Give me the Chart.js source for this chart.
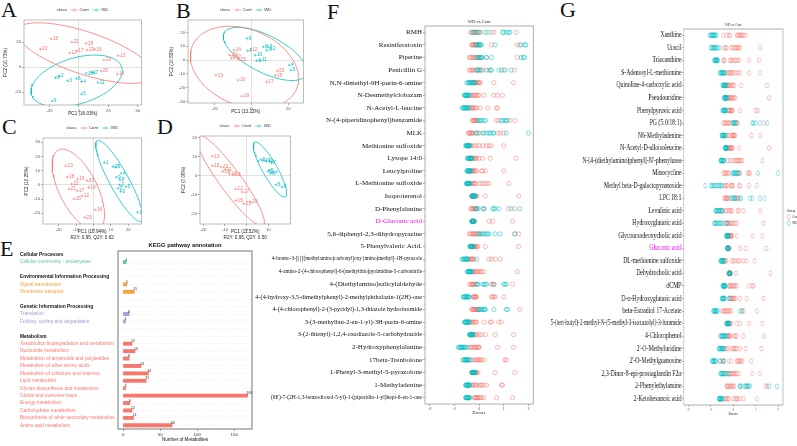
<!DOCTYPE html>
<html>
<head>
<meta charset="utf-8">
<title>Metabolomics figure</title>
<script src="https://cdn.jsdelivr.net/npm/chart.js@4.4.1/dist/chart.umd.min.js"></script>
<style>
  html, body { margin: 0; padding: 0; background: #fff; }
  #page { position: relative; width: 797px; height: 446px; overflow: hidden; background: #fff; }
  #page canvas { position: absolute; }
  .letter { position: absolute; font: 22px/1 "Liberation Serif", "Times New Roman", serif; color: #111; }
  #gWrap { position: absolute; left: 536px; top: 20px; width: 363px; height: 397px; transform: scaleX(0.72); transform-origin: 0 0; }
</style>
</head>
<body>
<div id="page">
  <div class="letter" style="left:1px;top:-1px">A</div>
  <div class="letter" style="left:176px;top:0px">B</div>
  <div class="letter" style="left:2px;top:116px">C</div>
  <div class="letter" style="left:157px;top:116px">D</div>
  <div class="letter" style="left:0px;top:238px">E</div>
  <div class="letter" style="left:327px;top:1px">F</div>
  <div class="letter" style="left:560px;top:-1px">G</div>
  <div id="gWrap"></div>
</div>
<script>
// ---- sample ids (labels next to the points) ----
const contIds = [12, 13, 14, 15, 16, 17, 18, 19, 20, 21, 22, 23];
const wdIds = [1, 2, 3, 4, 5, 6, 7, 8, 9, 10, 11];

// ---- A: PCA ----
const aContX = [-7.8, 33.3, 32.5, -23.6, 13.3, -2, 6.1, 21.1, 18.9, -6, 7, -32.8];
const aContY = [11.2, 9, -5.6, 22.4, 14.2, 13, 19, 5.6, -3, 20, 13.6, 14.4];
const aWdX = [10.6, -16.7, -9.7, 2.2, 2.2, -2.2, 12.5, -20, -22.8, 6.1, 16.1];
const aWdY = [-4.2, -7.2, -11, -11.7, -21.6, -9.4, -4.5, -8.6, -27.2, -5, -12.5];
const aXTicks = [-25, 0, 25, 50];
const aYTicks = [-20, 0, 20];

// ---- B: PCA ----
const bContX = [-0.7, -19.4, -9.6, -6.9, -7.3, 8.2, -5.2, 13, -12, -11, -9.6, 14];
const bContY = [7.2, -10.9, 7.2, 0.5, -14.5, -15.7, -26, -10.9, 3.6, 1.5, 2.5, -7.7];
const bWdX = [2.8, 10.8, 8.2, 20.6, 21.5, 9, -2.1, 6.4, -2.5, 2, 4.6];
const bWdY = [-0.5, 8, 7.2, -3.6, -7.2, 9.6, 6.7, 9.6, 15.7, 3.6, 0];
const bXTicks = [-20, 0, 20];
const bYTicks = [-30, -20, -10, 0, 10, 20];

// ---- C: PLS-DA ----
const cContX = [-6.6, -15.9, -2.8, -11.2, 1, -9.4, -15, -9.2, -3.8, -14, -12.5, -5];
const cContY = [-7.7, 13.4, -1.9, -10, -17.6, -4, 5.5, 4.2, 3, -2.8, 0.7, -22.8];
const cWdX = [6.2, 15, 14, 15.9, 18.7, 15.6, 12.5, 15.2, 13.1, 11.2, 25.3];
const cWdY = [15.7, 0, -2.4, 8.2, -1.2, -4.7, 12.5, 3.5, 5.4, 12.9, -19.2];
const cXTicks = [-20, -10, 0, 10, 20];
const cYTicks = [-20, -10, 0, 10, 20, 30];

// ---- D: PLS-DA ----
const dContX = [-5, -15.8, -8, -5, -6, -2.1, -15.8, -11, 1.7, -10, -11.8, -1.3];
const dContY = [-7, 10.2, 1, -13, 0.5, -8.6, 5.3, 2.3, -13.8, 3.2, 4.6, -14.7];
const dWdX = [10.6, 9.9, 11, 12.1, 13.6, 6.6, 11.5, 16.3, 10.5, 7.6, 9];
const dWdY = [7.5, 2.3, 1.2, 1.7, -4.7, 8.4, 6.8, -5.9, 2.8, 8, 7.8];
const dXTicks = [-20, -10, 0, 10];
const dYTicks = [-20, -10, 0, 10, 20];

// ---- E: KEGG ----
const keggGroups = ['Cellular Processes', 'Environmental Information Processing',
  'Genetic Information Processing', 'Metabolism'];
const keggPathways = ['Cellular community - prokaryotes', 'Signal transduction', 'Membrane transport',
  'Translation', 'Folding, sorting and degradation',
  'Xenobiotics biodegradation and metabolism', 'Nucleotide metabolism',
  'Metabolism of terpenoids and polyketides', 'Metabolism of other amino acids',
  'Metabolism of cofactors and vitamins', 'Lipid metabolism', 'Glycan biosynthesis and metabolism',
  'Global and overview maps', 'Energy metabolism', 'Carbohydrate metabolism',
  'Biosynthesis of other secondary metabolites', 'Amino acid metabolism'];
const keggGroupOf = [0, 1, 1, 2, 2, 3, 3, 3, 3, 3, 3, 3, 3, 3, 3, 3, 3];
const keggCounts = [4, 5, 15, 8, 3, 12, 16, 8, 24, 34, 31, 3, 168, 9, 12, 14, 66];
const eXTicks = [0, 50, 100, 150];

// ---- F: WD vs Cont z-scores ----
const fRows = ['RMH', 'Resiniferatoxin', 'Piperine', 'Penicillin G', 'N,N-dimethyl-9H-purin-6-amine',
  'N-Desmethylclobazam', 'N-Acetyl-L-leucine', 'N-(4-piperidinophenyl)benzamide', 'MLK',
  'Methionine sulfoxide', 'Lysope 14:0', 'Leucylproline', 'L-Methionine sulfoxide', 'Isoproterenol',
  'D-Phenylalanine', 'D-Gluconic acid', '5,6-diphenyl-2,3-dihydropyrazine', '5-Phenylvaleric Acid.',
  '4-bromo-3-[({[(methylamino)carbonyl]oxy}imino)methyl]-1H-pyrazole',
  '4-amino-2-(4-chlorophenyl)-6-(methylthio)pyrimidine-5-carbonitrile',
  '4-(Diethylamino)salicylaldehyde', '4-(4-hydroxy-3,5-dimethylphenyl)-2-methylphthalazin-1(2H)-one',
  '4-(4-chlorophenyl)-2-(3-pyridyl)-1,3-thiazole hydrobromide', '3-(3-methylbut-2-en-1-yl)-3H-purin-6-amine',
  '3-(2-thienyl)-1,2,4-oxadiazole-5-carbohydrazide', '2-Hydroxyphenylalanine', '17beta-Trenbolone',
  '1-Phenyl-3-methyl-5-pyrazolone', '1-Methyladenine',
  '(6E)-7-(2H-1,3-benzodioxol-5-yl)-1-(piperidin-1-yl)hept-6-en-1-one'];
const fCont = [
  [-0.35,-0.3,-0.25,-0.2,-0.15,-0.1,-0.05,0,0.05,0.5,0.6,1.5],
  [-0.3,-0.28,-0.25,-0.22,-0.2,-0.15,-0.1,-0.05,0,0.5,1.55,1.65],
  [-0.4,-0.35,-0.3,-0.25,-0.2,-0.15,-0.1,-0.05,0,0.05,0.3,1.55],
  [-0.4,-0.35,-0.3,-0.25,-0.2,-0.1,-0.05,0.1,0.15,0.4,1,1.45],
  [-0.3,-0.25,-0.2,-0.15,-0.12,-0.1,-0.05,-0.02,0,0.05,0.6,1.4],
  [-0.35,-0.3,-0.25,-0.2,-0.15,-0.1,-0.05,0,0.2,0.6,0.75,0.95],
  [-0.4,-0.35,-0.3,-0.28,-0.25,-0.2,-0.15,-0.1,0.05,0.35,0.7,0.75],
  [-0.28,-0.25,-0.22,-0.2,-0.18,-0.15,-0.12,-0.1,0.7,0.8,1.25,1.45],
  [-0.45,-0.4,-0.38,-0.35,-0.3,-0.28,-0.25,-0.05,0,0.75,0.85,1],
  [-0.45,-0.4,-0.35,-0.3,-0.2,-0.1,0,0.15,0.3,0.4,0.5,1],
  [-0.35,-0.3,-0.28,-0.25,-0.2,-0.18,-0.15,-0.1,0,0.15,0.45,1.5],
  [-0.35,-0.3,-0.28,-0.25,-0.22,-0.2,-0.15,-0.1,0.1,0.15,0.25,1],
  [-0.35,-0.3,-0.25,-0.22,-0.18,-0.15,0,0.1,0.2,0.3,0.4,1.2],
  [-0.32,-0.28,-0.26,-0.25,-0.22,-0.2,-0.18,-0.15,-0.12,-0.1,0.25,1.6],
  [-0.35,-0.3,-0.28,-0.25,-0.22,-0.2,-0.15,-0.12,-0.1,0.2,1.2,1.45],
  [-0.3,-0.28,-0.27,-0.26,-0.24,-0.23,-0.22,-0.2,-0.18,0.4,0.55,1.35],
  [-0.4,-0.35,-0.3,-0.25,-0.22,-0.2,-0.15,-0.1,0,0.05,1.45,1.6],
  [-0.3,-0.28,-0.25,-0.22,-0.2,-0.18,-0.15,-0.12,-0.1,-0.05,0.25,1.6],
  [-0.45,-0.4,-0.35,-0.32,-0.3,-0.28,-0.25,-0.2,0.4,0.5,0.65,0.85],
  [-0.3,-0.25,-0.22,-0.2,-0.15,-0.1,-0.05,0,0.05,0.1,0.2,1.55],
  [-0.38,-0.35,-0.3,-0.27,-0.25,-0.22,-0.2,-0.15,0.5,0.55,0.6,1.35],
  [-0.25,-0.22,-0.2,-0.18,-0.15,-0.12,-0.1,0.5,0.55,0.6,0.65,1],
  [-0.3,-0.28,-0.25,-0.22,-0.2,-0.18,-0.15,-0.12,-0.1,-0.05,0,1.65],
  [-0.4,-0.35,-0.3,-0.25,-0.2,-0.15,-0.1,0.2,0.45,0.5,0.8,0.9],
  [-0.3,-0.28,-0.25,-0.22,-0.2,-0.15,-0.1,0,0.1,0.25,0.65,1.4],
  [-0.4,-0.35,-0.3,-0.25,-0.2,-0.15,-0.1,-0.05,-0.02,0,0.75,1.4],
  [-0.35,-0.3,-0.2,-0.15,-0.1,-0.05,0,0.05,0.1,0.2,1.05,1.1],
  [-0.3,-0.28,-0.25,-0.22,-0.2,-0.18,-0.15,-0.12,-0.1,-0.05,0.65,1.45],
  [-0.3,-0.25,-0.2,-0.15,-0.1,0,0.05,0.1,0.2,0.3,0.9,0.95],
  [-0.2,-0.18,-0.15,-0.1,-0.08,-0.05,0,0.05,0.1,0.2,0.7,1.35]
];
const fWd = [
  [-0.25,-0.2,-0.1,0,0.25,0.35,0.95,1,1.1,1.2,1.25],
  [-0.15,-0.1,-0.05,0,0.02,0.05,0.1,0.65,1.7,1.85,1.9],
  [-0.1,-0.05,0,0.05,0.1,0.12,0.3,0.5,1.7,1.8,1.85],
  [-0.1,-0.05,0,0.05,0.3,0.45,0.5,0.8,0.9,1.05,1.3],
  [-0.5,-0.45,-0.42,-0.4,-0.35,-0.32,-0.3,-0.25,-0.22,-0.2,-0.15],
  [-0.6,-0.58,-0.55,-0.55,-0.52,-0.5,-0.5,-0.48,-0.45,-0.42,-0.4],
  [-0.7,-0.65,-0.62,-0.6,-0.58,-0.55,-0.52,-0.5,-0.48,-0.45,-0.42],
  [-0.05,0,0.05,0.1,0.2,0.25,0.9,0.95,1.05,1.1,1.15],
  [-0.15,-0.1,0.15,0.2,0.3,0.4,0.45,0.55,0.6,1.1,2],
  [-0.55,-0.52,-0.5,-0.5,-0.48,-0.46,-0.45,-0.44,-0.42,-0.4,-0.38],
  [-0.48,-0.45,-0.44,-0.42,-0.4,-0.38,-0.36,-0.35,-0.33,-0.32,-0.3],
  [-0.5,-0.48,-0.46,-0.45,-0.43,-0.42,-0.4,-0.39,-0.38,-0.36,-0.34],
  [-0.52,-0.5,-0.49,-0.48,-0.45,-0.44,-0.43,-0.42,-0.41,-0.4,-0.38],
  [-0.3,-0.28,-0.27,-0.26,-0.24,-0.23,-0.22,-0.2,-0.19,-0.18,-0.16],
  [-0.15,-0.1,-0.05,0.15,0.2,0.55,0.6,0.65,0.8,1.3,1.65],
  [-0.3,-0.29,-0.28,-0.27,-0.26,-0.25,-0.25,-0.24,-0.23,-0.22,-0.21],
  [-0.05,0,0.1,0.15,0.2,0.3,0.35,0.4,0.65,0.85,1.45],
  [-0.38,-0.36,-0.35,-0.34,-0.33,-0.32,-0.3,-0.3,-0.28,-0.27,-0.26],
  [-0.7,-0.65,-0.62,-0.6,-0.58,-0.55,-0.52,-0.5,-0.48,-0.45,-0.1],
  [-0.48,-0.46,-0.45,-0.42,-0.4,-0.4,-0.38,-0.36,-0.35,-0.33,-0.3],
  [-0.1,-0.08,-0.05,0.15,0.2,0.25,0.3,0.6,1,1.05,1.1],
  [-0.65,-0.62,-0.6,-0.58,-0.55,-0.52,-0.5,-0.48,-0.45,-0.42,-0.4],
  [-0.05,0,0.05,0.1,0.15,0.2,0.22,0.25,0.6,1.1,1.15],
  [-0.6,-0.58,-0.56,-0.55,-0.52,-0.5,-0.48,-0.45,-0.44,-0.42,-0.4],
  [-0.4,-0.38,-0.36,-0.35,-0.34,-0.33,-0.32,-0.3,-0.29,-0.28,-0.26],
  [-0.85,-0.8,-0.78,-0.75,-0.72,-0.7,-0.65,-0.62,-0.6,-0.55,-0.5],
  [-0.65,-0.62,-0.6,-0.58,-0.55,-0.52,-0.5,-0.48,-0.45,-0.42,-0.4],
  [-0.3,-0.28,-0.27,-0.26,-0.24,-0.23,-0.22,-0.2,-0.19,-0.18,-0.16],
  [-0.55,-0.53,-0.52,-0.5,-0.48,-0.47,-0.45,-0.43,-0.42,-0.4,-0.38],
  [-0.55,-0.53,-0.52,-0.5,-0.48,-0.47,-0.45,-0.43,-0.42,-0.4,-0.38]
];

// ---- G: WD vs Cont z-scores ----
const gRows = ['Xanthine', 'Uracil', 'Triacanthine', 'S-Adenosyl-L-methionine', 'Quinoline-4-carboxylic acid',
  'Pseudouridine', 'Phenylpyruvic acid', 'PG (5:0/18:1)', 'N6-Methyladenine', 'N-Acetyl-D-alloisoleucine',
  "N-[4-(diethylamino)phenyl]-N'-phenylurea", 'Minocycline', 'Methyl beta-D-galactopyranoside', 'LPC 18:1',
  'Levulinic acid', 'Hydroxyglutaric acid', 'Glycoursodeoxycholic acid', 'Gluconic acid',
  'DL-methionine sulfoxide', 'Dehydrocholic acid', 'dCMP', 'D-\u03b1-Hydroxyglutaric acid',
  'beta-Estradiol 17-Acetate', '5-(tert-butyl)-2-methyl-N-(5-methyl-3-isoxazolyl)-3-furamide',
  '4-Chlorophenol', "2'-O-Methyluridine", "2'-O-Methylguanosine", '2,3-Dinor-8-epi-prostaglandin F2\u03b1',
  '2-Phenylethylamine', '2-Ketohexanoic acid'];
const gCont = [
  [-0.45,-0.3,-0.2,-0.15,0.15,0.2,0.25,0.3,0.35,0.4,0.45,0.55],
  [-0.4,-0.35,-0.3,-0.1,-0.05,0.05,0.1,0.15,0.2,0.25,0.3,1.2],
  [-0.45,-0.42,-0.4,-0.15,-0.1,-0.05,0.05,0.1,0.2,0.25,0.7,1.15],
  [-0.3,-0.25,-0.2,-0.15,-0.1,-0.05,0,0.1,0.2,0.3,0.7,1.2],
  [-0.3,-0.28,-0.25,-0.22,-0.2,-0.15,-0.1,-0.05,0,0.05,0.35,1.5],
  [-0.25,-0.22,-0.2,-0.18,-0.15,-0.12,-0.08,-0.05,0,0.05,0.1,1.6],
  [-0.25,-0.22,-0.2,-0.15,-0.12,-0.1,-0.08,-0.05,-0.02,0.3,1,1.1],
  [-0.45,-0.4,-0.35,-0.3,-0.25,-0.2,-0.15,0,0.1,0.15,0.2,1.35],
  [-0.3,-0.25,-0.2,-0.1,-0.05,-0.02,0,0.02,0.05,0.08,0.8,1.2],
  [-0.25,-0.22,-0.2,-0.18,-0.15,-0.12,-0.1,-0.08,-0.05,-0.02,0.25,1.6],
  [-0.25,-0.15,-0.05,0.05,0.1,0.15,0.2,0.25,0.3,0.35,0.4,1.3],
  [-0.45,-0.4,-0.35,-0.3,-0.25,-0.2,0.2,0.25,0.3,0.65,0.7,0.75],
  [-0.4,-0.35,-0.3,-0.25,-0.1,-0.08,-0.05,0,0.25,0.3,0.7,1.05],
  [-0.4,-0.38,-0.35,-0.3,-0.28,-0.25,-0.2,0.05,0.1,0.15,0.2,0.22],
  [-0.5,-0.45,-0.35,-0.3,-0.2,-0.15,-0.1,-0.05,0.2,0.25,0.45,1.2],
  [-0.4,-0.35,-0.28,-0.25,-0.2,-0.15,-0.1,-0.05,0,0.1,0.15,1.35],
  [-0.2,-0.2,-0.18,-0.15,-0.12,-0.1,-0.1,-0.08,-0.05,0.15,0.85,1.3],
  [-0.28,-0.27,-0.25,-0.23,-0.22,-0.2,-0.2,-0.18,-0.16,0.3,0.55,1.48],
  [-0.4,-0.38,-0.35,-0.3,-0.05,0,0.1,0.2,0.3,0.45,0.6,0.95],
  [-0.22,-0.22,-0.2,-0.2,-0.18,-0.16,-0.15,-0.14,-0.12,-0.1,0.12,1.66],
  [-0.2,-0.18,-0.15,-0.1,-0.05,0,0.05,0.1,0.15,0.7,0.85,0.9],
  [-0.2,-0.15,-0.1,-0.08,-0.05,0,0.02,0.05,0.1,0.3,0.6,1.35],
  [-0.5,-0.45,-0.4,-0.35,-0.3,-0.25,-0.2,-0.15,-0.1,0.4,0.45,1.05],
  [-0.3,-0.25,-0.22,-0.2,-0.18,-0.15,-0.12,-0.1,0.15,0.3,0.7,1.3],
  [-0.28,-0.25,-0.22,-0.2,-0.18,-0.15,-0.1,0.05,0.1,0.15,0.45,1.38],
  [-0.4,-0.35,-0.28,-0.2,-0.05,0,0.05,0.1,0.15,0.3,0.55,1.25],
  [-0.58,-0.5,-0.45,-0.2,-0.1,0.15,0.2,0.25,0.3,0.35,0.4,0.8],
  [-0.3,-0.25,-0.15,-0.1,-0.05,0,0.05,0.1,0.15,0.25,0.85,1.2],
  [-0.3,-0.28,-0.25,-0.2,-0.15,-0.1,-0.05,0,0.05,0.6,1.45,1.5],
  [-0.4,-0.35,-0.3,-0.25,-0.2,0,0.1,0.15,0.2,0.3,0.45,1.05]
];
const gWd = [
  [-1.05,-1.02,-1,-0.95,-0.92,-0.9,-0.88,-0.85,-0.82,-0.78,-0.75],
  [-1,-0.98,-0.95,-0.9,-0.88,-0.85,-0.8,-0.78,-0.75,-0.7,-0.6],
  [-0.85,-0.83,-0.82,-0.8,-0.79,-0.78,-0.75,-0.73,-0.72,-0.7,-0.68],
  [-0.6,-0.58,-0.55,-0.52,-0.5,-0.48,-0.45,-0.44,-0.42,-0.4,-0.38],
  [-0.48,-0.46,-0.45,-0.43,-0.41,-0.4,-0.38,-0.37,-0.36,-0.34,-0.32],
  [-0.42,-0.41,-0.4,-0.38,-0.37,-0.36,-0.34,-0.33,-0.32,-0.3,-0.28],
  [-0.48,-0.46,-0.45,-0.42,-0.41,-0.4,-0.38,-0.37,-0.36,-0.34,-0.32],
  [-0.05,0,0.02,0.05,0.1,0.15,0.85,0.9,1,1.2,1.5],
  [-0.52,-0.5,-0.5,-0.48,-0.45,-0.44,-0.42,-0.4,-0.4,-0.38,-0.36],
  [-0.38,-0.37,-0.36,-0.35,-0.34,-0.33,-0.32,-0.31,-0.3,-0.29,-0.28],
  [-0.58,-0.56,-0.55,-0.52,-0.5,-0.48,-0.46,-0.45,-0.44,-0.42,-0.4],
  [-0.05,0,0.02,0.05,0.1,0.12,0.15,0.2,0.28,1.1,2],
  [-1.25,-1,-0.95,-0.9,-0.85,-0.8,-0.72,-0.65,-0.6,-0.55,-0.5],
  [-0.1,-0.05,0,0.05,0.1,0.3,0.35,0.75,0.85,1.2,1.4],
  [-0.8,-0.78,-0.75,-0.72,-0.7,-0.65,-0.62,-0.6,-0.55,-0.52,-0.5],
  [-0.85,-0.82,-0.8,-0.75,-0.7,-0.65,-0.6,-0.55,-0.5,-0.3,-0.28],
  [-0.33,-0.31,-0.3,-0.28,-0.27,-0.26,-0.25,-0.24,-0.24,-0.23,-0.22],
  [-0.28,-0.27,-0.27,-0.26,-0.25,-0.25,-0.24,-0.23,-0.23,-0.22,-0.21],
  [-0.58,-0.56,-0.55,-0.52,-0.5,-0.5,-0.48,-0.46,-0.45,-0.44,-0.42],
  [-0.2,-0.19,-0.19,-0.18,-0.17,-0.17,-0.16,-0.15,-0.15,-0.14,-0.13],
  [-0.48,-0.46,-0.45,-0.43,-0.42,-0.41,-0.4,-0.38,-0.37,-0.36,-0.35],
  [-0.52,-0.5,-0.48,-0.46,-0.45,-0.43,-0.42,-0.4,-0.38,-0.2,-0.15],
  [-0.9,-0.88,-0.85,-0.82,-0.8,-0.78,-0.75,-0.72,-0.7,0.3,0.38],
  [-0.32,-0.3,-0.29,-0.28,-0.26,-0.25,-0.24,-0.22,-0.21,-0.2,-0.18],
  [-0.58,-0.55,-0.52,-0.5,-0.48,-0.45,-0.42,-0.4,-0.38,-0.35,-0.3],
  [-0.65,-0.62,-0.6,-0.58,-0.55,-0.52,-0.5,-0.48,-0.46,-0.45,-0.42],
  [-0.95,-0.92,-0.9,-0.88,-0.85,-0.82,-0.8,-0.78,-0.6,-0.45,-0.4],
  [-0.58,-0.55,-0.52,-0.5,-0.48,-0.45,-0.42,-0.38,-0.35,-0.22,-0.2],
  [0.3,0.3,0.35,0.5,0.55,0.6,0.65,0.7,0.75,1.6,1.95],
  [-0.65,-0.63,-0.62,-0.6,-0.58,-0.57,-0.55,-0.53,-0.52,-0.5,-0.48]
];
const zTicks = [-2, -1, 0, 1, 2];

// ---------------------------------------------------------------
const SANS = '"Liberation Sans", Arial, Helvetica, sans-serif';
const SERIF = '"Liberation Serif", "Times New Roman", Times, serif';
const RED = '#F8766D', TEAL = '#00BFC4';
const RED_A = 'rgba(248,118,109,0.72)', TEAL_A = 'rgba(0,191,196,0.72)';

Chart.defaults.animation = false;
Chart.defaults.responsive = false;
Chart.defaults.font.family = SANS;
Chart.defaults.plugins.legend.display = false;
Chart.defaults.plugins.tooltip.enabled = false;

const page = document.getElementById('page');

function addCanvas(parent, x, y, w, h) {
  const c = document.createElement('canvas');
  c.width = w; c.height = h;
  c.style.left = x + 'px'; c.style.top = y + 'px';
  c.style.width = w + 'px'; c.style.height = h + 'px';
  parent.appendChild(c);
  return c;
}

// 95% data ellipse like stat_ellipse (radius from the F distribution)
const F95 = { 10: 4.103, 11: 3.982 };
function ellipse(xs, ys) {
  const n = xs.length;
  const mx = xs.reduce((a, b) => a + b, 0) / n;
  const my = ys.reduce((a, b) => a + b, 0) / n;
  let sxx = 0, syy = 0, sxy = 0;
  for (let i = 0; i < n; i++) {
    const dx = xs[i] - mx, dy = ys[i] - my;
    sxx += dx * dx; syy += dy * dy; sxy += dx * dy;
  }
  sxx /= n - 1; syy /= n - 1; sxy /= n - 1;
  const r11 = Math.sqrt(sxx), r12 = sxy / r11, r22 = Math.sqrt(syy - r12 * r12);
  const rad = Math.sqrt(2 * F95[n - 1]);
  const out = [];
  for (let k = 0; k <= 90; k++) {
    const t = 2 * Math.PI * k / 90, u = Math.cos(t), v = Math.sin(t);
    out.push({ x: mx + rad * u * r11, y: my + rad * (u * r12 + v * r22) });
  }
  return out;
}

// plugins
const frame = {
  id: 'frame',
  afterDraw(chart, args, o) {
    const a = chart.chartArea, ctx = chart.ctx;
    ctx.save();
    ctx.strokeStyle = o.color || '#8c8c8c';
    ctx.lineWidth = o.width || 0.7;
    ctx.strokeRect(a.left, a.top, a.right - a.left, a.bottom - a.top);
    ctx.restore();
  }
};

const pointTags = {
  id: 'pointTags',
  afterDatasetsDraw(chart) {
    const ctx = chart.ctx, a = chart.chartArea;
    ctx.save();
    ctx.beginPath(); ctx.rect(a.left, a.top, a.right - a.left, a.bottom - a.top); ctx.clip();
    ctx.font = '4.8px ' + SANS;
    ctx.textBaseline = 'middle';
    chart.data.datasets.forEach((ds, i) => {
      if (!ds.tags) return;
      ctx.fillStyle = ds.borderColor;
      chart.getDatasetMeta(i).data.forEach((pt, j) => ctx.fillText(String(ds.tags[j]), pt.x + 1.7, pt.y));
    });
    ctx.restore();
  }
};

const pcaLegend = {
  id: 'pcaLegend',
  afterDraw(chart) {
    const ctx = chart.ctx, a = chart.chartArea;
    const y = a.top - 10;
    const parts = [['class', null], ['Cont', RED], ['WD', TEAL]];
    ctx.save();
    ctx.font = '4.4px ' + SANS;
    ctx.textBaseline = 'middle';
    const key = 7, gap = 4;
    let total = -gap;
    parts.forEach(([t, k]) => { total += (k ? key + 1.5 : 0) + ctx.measureText(t).width + gap; });
    let x = (a.left + a.right) / 2 - total / 2;
    parts.forEach(([t, k]) => {
      if (k) {
        ctx.strokeStyle = k; ctx.lineWidth = 0.6;
        ctx.beginPath();
        ctx.moveTo(x, y); ctx.lineTo(x + key, y);
        ctx.moveTo(x + key / 2, y - 1.5); ctx.lineTo(x + key / 2, y + 1.5);
        ctx.stroke();
        x += key + 1.5;
      }
      ctx.fillStyle = '#333';
      ctx.fillText(t, x, y);
      x += ctx.measureText(t).width + gap;
    });
    ctx.restore();
  }
};

const heading = {
  id: 'heading',
  afterDraw(chart, args, o) {
    if (!o.text) return;
    const ctx = chart.ctx, a = chart.chartArea;
    ctx.save();
    ctx.font = o.css;
    ctx.fillStyle = o.color || '#222';
    ctx.textAlign = 'center';
    ctx.fillText(o.text, (a.left + a.right) / 2, a.top - o.gap);
    ctx.restore();
  }
};

const barValues = {
  id: 'barValues',
  afterDatasetsDraw(chart) {
    const ctx = chart.ctx, vals = chart.data.datasets[0].data;
    ctx.save();
    ctx.font = '3.6px ' + SANS;
    ctx.fillStyle = '#333';
    ctx.textBaseline = 'bottom';
    chart.getDatasetMeta(0).data.forEach((bar, i) => {
      if (vals[i] == null) return;
      ctx.fillText(String(vals[i]), bar.x - 1, bar.y - 0.6);
    });
    ctx.restore();
  }
};

const groupLegend = {
  id: 'groupLegend',
  afterDraw(chart) {
    const ctx = chart.ctx, x = chart.chartArea.right + 5, y = 191;
    ctx.save();
    ctx.font = '4.4px ' + SANS;
    ctx.textBaseline = 'middle';
    ctx.fillStyle = '#333';
    ctx.fillText('Group', x, y);
    [['Cont', RED_A], ['WD', TEAL_A]].forEach(([t, c], i) => {
      const yy = y + 6 + i * 6;
      ctx.strokeStyle = c; ctx.lineWidth = 0.7;
      ctx.beginPath(); ctx.arc(x + 3, yy, 2.2, 0, Math.PI * 2); ctx.stroke();
      ctx.fillStyle = '#333';
      ctx.fillText(t, x + 8, yy);
    });
    ctx.restore();
  }
};

// ---------------- A-D ----------------
function pcaAxis(range, ticks, title, vertical, size) {
  return {
    type: 'linear', min: range[0], max: range[1],
    afterBuildTicks: s => { s.ticks = ticks.map(v => ({ value: v })); },
    afterFit: s => {
      if (vertical) s.width = size; else s.height = size;
      s.paddingLeft = s.paddingRight = s.paddingTop = s.paddingBottom = 0;
    },
    grid: {
      color: ctx => (ctx.tick && ctx.tick.value === 0 ? '#d4d4d4' : 'rgba(0,0,0,0)'),
      lineWidth: 0.7, tickLength: 2, tickColor: '#555', tickWidth: 0.5
    },
    border: { display: false },
    ticks: { font: { size: 4.2 }, color: '#555', padding: 1, maxRotation: 0, autoSkip: false },
    title: { display: true, text: title, font: { size: 4.6 }, color: '#222', padding: { top: 1, bottom: 0 } }
  };
}

function pcaPanel(p) {
  const padT = 15, padR = 2, padL = 1;
  const w = padL + p.yw + (p.box[2] - p.box[0]) + padR;
  const h = padT + (p.box[3] - p.box[1]) + p.xh;
  const c = addCanvas(page, p.box[0] - p.yw - padL, p.box[1] - padT, w, h);
  const pts = (xs, ys) => xs.map((x, i) => ({ x, y: ys[i] }));
  new Chart(c, {
    type: 'scatter',
    data: {
      datasets: [
        { data: pts(p.contX, p.contY), tags: contIds, pointStyle: 'cross', pointRadius: 1.4,
          borderColor: RED, borderWidth: 0.6 },
        { data: pts(p.wdX, p.wdY), tags: wdIds, pointStyle: 'cross', pointRadius: 1.4,
          borderColor: TEAL, borderWidth: 0.6 },
        { data: ellipse(p.contX, p.contY), showLine: true, pointRadius: 0, borderColor: RED, borderWidth: 0.8 },
        { data: ellipse(p.wdX, p.wdY), showLine: true, pointRadius: 0, borderColor: TEAL, borderWidth: 0.8 }
      ]
    },
    options: {
      layout: { padding: { top: padT, right: padR, left: padL, bottom: 0 } },
      scales: {
        x: pcaAxis(p.xRange, p.xTicks, p.xTitle, false, p.xh),
        y: pcaAxis(p.yRange, p.yTicks, p.yTitle, true, p.yw)
      },
      plugins: { frame: { color: '#a0a0a0', width: 0.7 } }
    },
    plugins: [frame, pointTags, pcaLegend]
  });
}

pcaPanel({ box: [24, 20, 144, 105], yw: 22, xh: 11, contX: aContX, contY: aContY, wdX: aWdX, wdY: aWdY,
  xRange: [-46.7, 53], yRange: [-30.4, 37.6], xTicks: aXTicks, yTicks: aYTicks,
  xTitle: 'PC1 (16.03%)', yTitle: 'PC2 (10.73%)' });
pcaPanel({ box: [188, 20, 306, 103], yw: 20, xh: 11, contX: bContX, contY: bContY, wdX: bWdX, wdY: bWdY,
  xRange: [-34.7, 28.3], yRange: [-31, 29], xTicks: bXTicks, yTicks: bYTicks,
  xTitle: 'PC1 (13.22%)', yTitle: 'PC2 (10.82%)' });
pcaPanel({ box: [43, 138, 144, 224], yw: 20, xh: 16, contX: cContX, contY: cContY, wdX: cWdX, wdY: cWdY,
  xRange: [-29, 27.5], yRange: [-27.5, 33], xTicks: cXTicks, yTicks: cYTicks,
  xTitle: ['PC1 (10.94%)', 'R2Y: 0.95, Q2Y: 0.62'], yTitle: 'PC2 (10.25%)' });
pcaPanel({ box: [200, 136, 293, 224], yw: 20, xh: 16, contX: dContX, contY: dContY, wdX: dWdX, wdY: dWdY,
  xRange: [-21.5, 20.2], yRange: [-25.4, 20.9], xTicks: dXTicks, yTicks: dYTicks,
  xTitle: ['PC1 (11.52%)', 'R2Y: 0.95, Q2Y: 0.50'], yTitle: 'PC2 (7.06%)' });

// ---------------- E ----------------
const groupColors = ['#5fc3a7', '#f5a23d', '#a29bd6', '#f8766d'];
const eLabels = [], eValues = [], eKind = [];
keggGroups.forEach((g, gi) => {
  if (gi > 0) { eLabels.push(''); eValues.push(null); eKind.push('blank'); }
  eLabels.push(g); eValues.push(null); eKind.push('head');
  keggPathways.forEach((name, i) => {
    if (keggGroupOf[i] === gi) { eLabels.push(name); eValues.push(keggCounts[i]); eKind.push(gi); }
  });
});

(function () {
  const box = [118, 251, 252, 429], padL = 2, padT = 8, padR = 3, yw = 98, xh = 13;
  const c = addCanvas(page, box[0] - yw - padL, box[1] - padT,
    padL + yw + (box[2] - box[0]) + padR, padT + (box[3] - box[1]) + xh);
  new Chart(c, {
    type: 'bar',
    data: {
      labels: eLabels,
      datasets: [{
        data: eValues,
        backgroundColor: eKind.map(k => (typeof k === 'number' ? groupColors[k] : 'rgba(0,0,0,0)')),
        barThickness: 3.2
      }]
    },
    options: {
      indexAxis: 'y',
      layout: { padding: { top: padT, right: padR, left: padL, bottom: 0 } },
      scales: {
        x: {
          type: 'linear', min: -7, max: 174,
          afterBuildTicks: s => { s.ticks = eXTicks.map(v => ({ value: v })); },
          afterFit: s => { s.height = xh; s.paddingLeft = s.paddingRight = 0; },
          grid: { drawOnChartArea: false, tickLength: 2, color: '#444', lineWidth: 0.5 },
          border: { display: false },
          ticks: { font: { size: 4.4 }, color: '#333', padding: 1.5, maxRotation: 0 },
          title: { display: true, text: 'Number of Metabolites', font: { size: 4.6 }, color: '#111',
            padding: { top: 1, bottom: 0 } }
        },
        y: {
          afterFit: s => { s.width = yw; s.paddingTop = s.paddingBottom = 0; },
          grid: { color: '#e4e4e4', lineWidth: 0.5, drawTicks: false, offset: false },
          border: { display: false, dash: [1.5, 1.5] },
          ticks: {
            autoSkip: false, crossAlign: 'far', padding: 0,
            font: ctx => ({ size: 4.85, family: SANS, weight: eKind[ctx.index] === 'head' ? 'bold' : 'normal' }),
            color: ctx => (typeof eKind[ctx.index] === 'number' ? groupColors[eKind[ctx.index]] : '#111')
          }
        }
      },
      plugins: {
        frame: { color: '#555', width: 0.8 },
        heading: { text: 'KEGG pathway annotation', css: 'bold 5.8px ' + SANS, color: '#111', gap: 4 }
      }
    },
    plugins: [frame, heading, barValues]
  });
})();

// ---------------- F & G ----------------
function dotPanel(parent, geo, rows, cont, wd, o) {
  const c = addCanvas(parent, geo.x, geo.y, geo.w, geo.h);
  const toPts = list => rows.flatMap((r, i) => list[i].map(v => ({ x: v, y: r })));
  new Chart(c, {
    type: 'scatter',
    data: {
      datasets: [
        { data: toPts(wd), pointRadius: o.r, borderColor: TEAL_A, backgroundColor: 'rgba(0,0,0,0)', borderWidth: 0.7 },
        { data: toPts(cont), pointRadius: o.r, borderColor: RED_A, backgroundColor: 'rgba(0,0,0,0)', borderWidth: 0.7 }
      ]
    },
    options: {
      layout: { padding: { top: geo.padT, right: geo.padR, left: 0, bottom: 0 } },
      scales: {
        x: {
          type: 'linear', min: -o.lim, max: o.lim,
          afterBuildTicks: s => { s.ticks = zTicks.map(v => ({ value: v })); },
          afterFit: s => { s.height = geo.xh; s.paddingLeft = s.paddingRight = 0; },
          grid: { drawOnChartArea: false, tickLength: 2, color: '#555', lineWidth: 0.5 },
          border: { display: false },
          ticks: { font: { size: 4, family: SERIF }, color: '#444', padding: 1, maxRotation: 0 },
          title: { display: true, text: 'Zscore', font: { size: 5, family: SERIF }, color: '#222',
            padding: { top: 0, bottom: 0 } }
        },
        y: {
          type: 'category', labels: rows, offset: true,
          afterFit: s => { s.width = geo.yw; s.paddingTop = s.paddingBottom = 0; },
          grid: { drawOnChartArea: false, tickLength: 2, color: '#555', lineWidth: 0.5 },
          border: { display: false },
          ticks: {
            autoSkip: false, padding: 1,
            font: ctx => ({ size: o.size(ctx.index), family: SERIF }),
            color: ctx => (rows[ctx.index] === o.highlight ? '#ff00ff' : '#111')
          }
        }
      },
      plugins: {
        frame: { color: '#9a9a9a', width: 0.8 },
        heading: { text: 'WD.vs.Cont', css: '4.6px ' + SERIF, color: '#333', gap: 3 }
      }
    },
    plugins: o.legend ? [frame, heading, groupLegend] : [frame, heading]
  });
}

const fSmall = { 18: 5.2, 19: 5.2, 21: 6.3, 22: 6.2, 23: 6.5, 24: 6.4, 29: 5.5 };
dotPanel(page, { x: 250, y: 18, w: 288, h: 398, padT: 8, padR: 3, yw: 175, xh: 12 },
  fRows, fCont, fWd, { r: 2.1, lim: 2.2, highlight: 'D-Gluconic acid', size: i => fSmall[i] || 7 });

dotPanel(document.getElementById('gWrap'), { x: 0, y: 0, w: 363, h: 397, padT: 9, padR: 20, yw: 205, xh: 12 },
  gRows, gCont, gWd, { r: 2.3, lim: 2.22, highlight: 'Gluconic acid', size: i => (i === 23 ? 7.3 : 8), legend: true });
</script>
</body>
</html>
